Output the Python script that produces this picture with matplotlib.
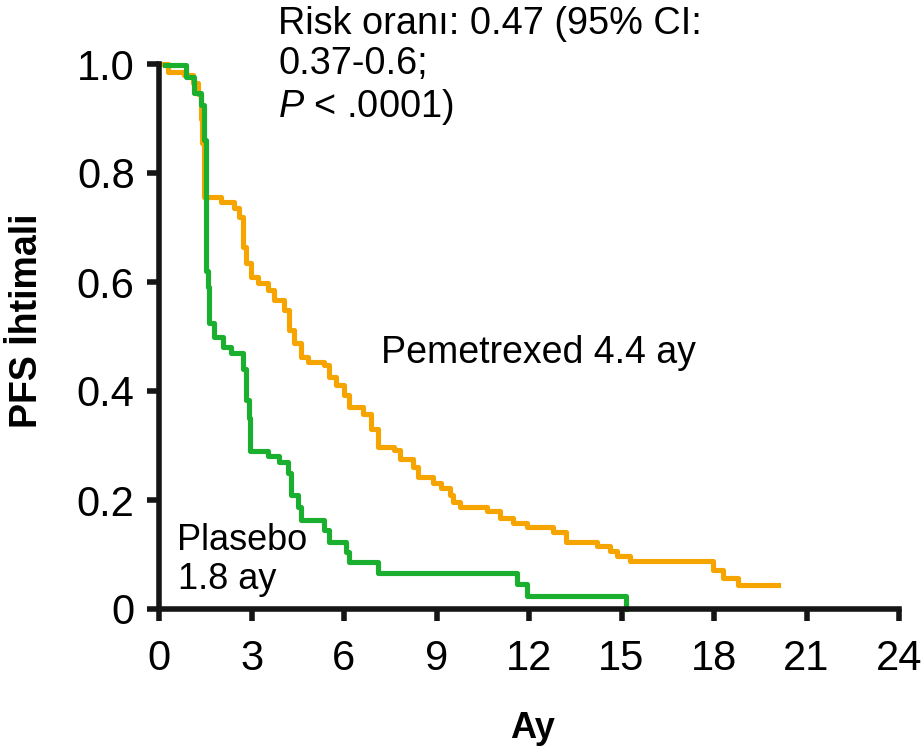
import matplotlib
matplotlib.use("Agg")
from matplotlib import pyplot as plt

plt.rcParams['font.family'] = ['Liberation Sans', 'DejaVu Sans']
plt.rcParams['mathtext.fontset'] = 'custom'
plt.rcParams['mathtext.rm'] = 'Liberation Sans'
plt.rcParams['mathtext.it'] = 'Liberation Sans:italic'

# Pemetrexed arm: step times (months) and survival after each step
pem_t = [0.1, 0.3, 0.8, 1.1, 1.26, 1.36, 1.40, 1.45, 2.0, 2.44, 2.59, 2.72, 2.82,
         2.98, 3.2, 3.53, 3.72, 4.05, 4.21, 4.37, 4.6, 4.82, 5.34, 5.5, 5.73,
         5.99, 6.15, 6.63, 6.86, 7.09, 7.61, 7.83, 8.25, 8.41, 8.9, 9.13, 9.45,
         9.55, 9.77, 10.64, 11.07, 11.49, 11.94, 12.78, 13.2, 14.2, 14.63,
         14.85, 15.28, 17.96, 18.28, 18.77, 20.06]
pem_s = [1.0, 0.985, 0.98, 0.965, 0.945, 0.90, 0.855, 0.756, 0.747, 0.736, 0.72,
         0.665, 0.635, 0.61, 0.598, 0.585, 0.567, 0.549, 0.512, 0.488, 0.462,
         0.453, 0.448, 0.426, 0.411, 0.393, 0.371, 0.358, 0.33, 0.297, 0.292,
         0.275, 0.26, 0.242, 0.231, 0.222, 0.209, 0.196, 0.187, 0.18, 0.167,
         0.158, 0.15, 0.141, 0.123, 0.116, 0.106, 0.097, 0.088, 0.072, 0.057,
         0.044, 0.044]

# Placebo arm
pla_t = [0.2, 0.87, 1.13, 1.36, 1.46, 1.52, 1.59, 1.62, 1.78, 2.07, 2.33, 2.72,
         2.82, 2.91, 2.95, 3.53, 3.88, 4.17, 4.27, 4.5, 4.6, 5.34, 5.5, 6.05,
         6.15, 7.09, 11.62, 11.94, 15.15]
pla_s = [0.998, 0.976, 0.947, 0.925, 0.86, 0.62, 0.59, 0.525, 0.50, 0.48, 0.47,
         0.44, 0.384, 0.35, 0.29, 0.28, 0.27, 0.25, 0.21, 0.187, 0.163, 0.145,
         0.123, 0.105, 0.086, 0.066, 0.046, 0.023, 0.0]

xticks = [0, 3, 6, 9, 12, 15, 18, 21, 24]
yticks = [0, 0.2, 0.4, 0.6, 0.8, 1.0]
ytick_labels = ['0', '0.2', '0.4', '0.6', '0.8', '1.0']

orange = '#F5A400'
green = '#1AAF2E'

fig = plt.figure(figsize=(9.23, 7.52), dpi=100)
ax = fig.add_axes([159 / 923, 143 / 752, 740 / 923, 545 / 752])

ax.step(pem_t, pem_s, where='post', color=orange, lw=3.7, clip_on=False)
ax.step(pla_t, pla_s, where='post', color=green, lw=3.7, clip_on=False)

ax.set_xlim(0, 24)
ax.set_ylim(0, 1.0)
ax.set_xticks(xticks)
ax.set_yticks(yticks)
ax.set_yticklabels(ytick_labels)
for side in ['top', 'right']:
    ax.spines[side].set_visible(False)
for side in ['left', 'bottom']:
    ax.spines[side].set_linewidth(4)
    ax.spines[side].set_color('#151515')
ax.tick_params(axis='both', direction='out', length=8.5, width=4, color='#151515',
               labelsize=30)
ax.tick_params(axis='x', pad=13)
ax.tick_params(axis='y', pad=9)

fig.text(27 / 923, 1 - 321 / 752, 'PFS İhtimali', fontsize=27, fontweight='bold',
         rotation=90, ha='center', va='center')
fig.text(533 / 923, 1 - 728 / 752, 'Ay', fontsize=26, fontweight='bold',
         ha='center', va='center')

ax.text(7.2, 0.47, 'Pemetrexed 4.4 ay', fontsize=27, va='center')
ax.text(0.6, 0.09, 'Plasebo\n1.8 ay', fontsize=26, va='center', linespacing=1.15)
fig.text(278 / 923, 1 - 6 / 752, 'Risk oranı: 0.47 (95% CI:\n0.37-0.6;\n$P$ < .0001)',
         fontsize=27.3, va='top', ha='left', linespacing=1.15)

fig.savefig('out.png', dpi=100)
